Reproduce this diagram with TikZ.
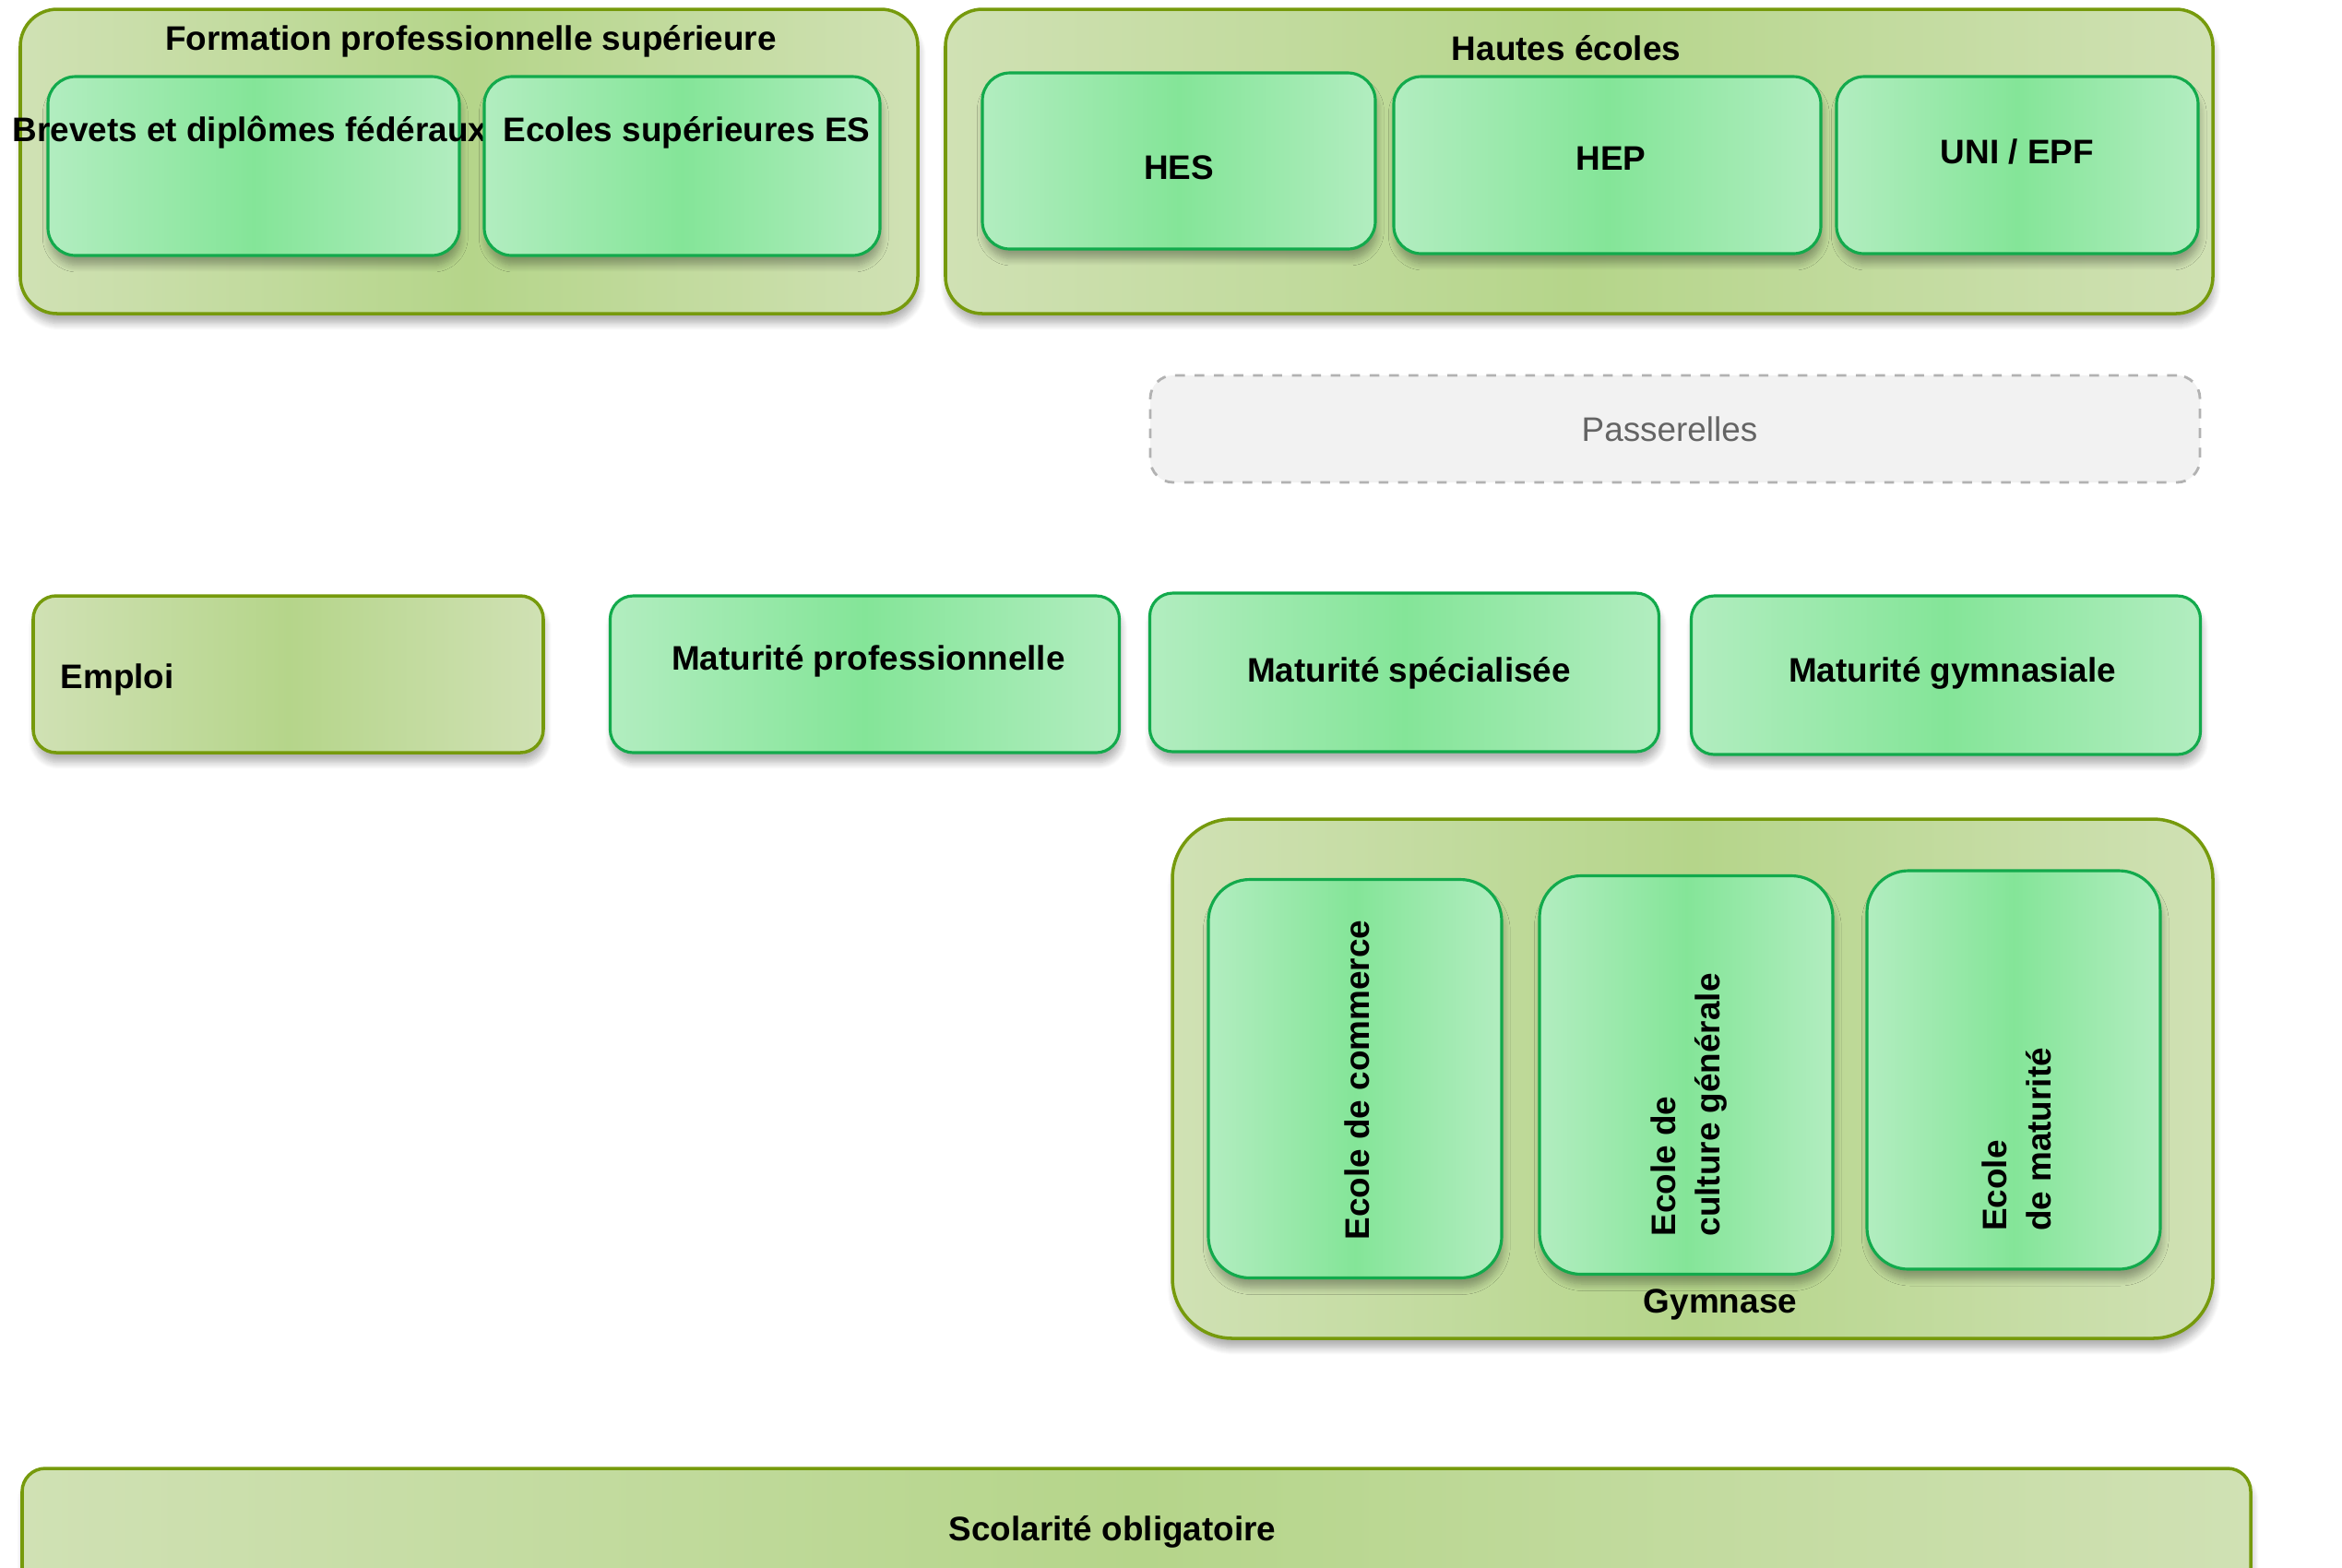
\documentclass[tikz,border=0pt]{standalone}
\usepackage{fontspec}
\setmainfont{Liberation Sans}
\usetikzlibrary{calc,shadows.blur}
\definecolor{zoneedge}{RGB}{208,225,180}
\definecolor{zonemid}{RGB}{181,213,138}
\definecolor{zoneline}{RGB}{118,154,12}
\definecolor{schooledge}{RGB}{178,237,192}
\definecolor{schoolmid}{RGB}{132,229,152}
\definecolor{schoolline}{RGB}{18,170,76}
\definecolor{passfill}{RGB}{242,242,242}
\definecolor{passline}{RGB}{178,178,178}
\definecolor{passtext}{RGB}{100,100,100}
\tikzset{
	softshadow/.style={blur shadow={shadow xshift=0.5pt, shadow yshift=-3pt, shadow blur steps=8, shadow opacity=30}},
	zone/.style={draw=zoneline, line width=1pt, rounded corners=0.4cm, left color=zoneedge, right color=zoneedge, middle color=zonemid, softshadow, inner sep=0pt},
	school/.style={draw=schoolline, line width=0.9pt, rounded corners=0.3cm, left color=schooledge, right color=schooledge, middle color=schoolmid, softshadow, inner sep=0pt},
	txt/.style={font=\bfseries\fontsize{10.5}{13.6}\selectfont, inner sep=0pt},
	lbl/.style={txt, yshift=-1.4pt},
	vlbl/.style={txt, rotate=90, anchor=west, align=left},
}

\begin{document}
\begin{tikzpicture}[x=1cm,y=-1cm]
				%%%%% START %%%%%
				\def\hrow{1.70}
				\def\wmat{5.52}
				\def\wgym{3.18}
				\def\hgym{4.32}
				
				\useasboundingbox (0,0) rectangle (25.39,16.99);
				
				% top row
				\node[zone, minimum width=9.73cm, minimum height=3.30cm] (fps) at (5.085,1.75) {};
				\node[lbl] (fpstitle) at ($(fps.north)+(0.02,0.32)$) {Formation professionnelle supérieure};
				\node[school, minimum width=4.46cm, minimum height=1.94cm] (brevets) at (2.75,1.80) {};
				\node[lbl] (brevetstxt) at ($(brevets.north)+(-0.04,0.57)$) {Brevets et diplômes fédéraux};
				\node[school, minimum width=4.29cm, minimum height=1.94cm] (es) at (7.395,1.80) {};
				\node[lbl] (estxt) at ($(es.north)+(0.05,0.57)$) {Ecoles supérieures ES};
				
				\node[zone, minimum width=13.74cm, minimum height=3.30cm] (he) at (17.12,1.75) {};
				\node[lbl] (hetitle) at ($(he.north)+(-0.14,0.39)$) {Hautes écoles};
				\node[school, minimum width=4.26cm, minimum height=1.91cm] (hes) at (12.78,1.745) {};
				\node[lbl] (hestxt) at ($(hes.center)+(0,0.02)$) {HES};
				\node[school, minimum width=4.63cm, minimum height=1.92cm] (hep) at (17.425,1.79) {};
				\node[lbl] (heptxt) at ($(hep.center)+(0.04,-0.12)$) {HEP};
				\node[school, minimum width=3.92cm, minimum height=1.92cm] (uni) at (21.87,1.79) {};
				\node[lbl] (unitxt) at ($(uni.center)+(0,-0.19)$) {UNI / EPF};
				
				\node[draw=passline, dashed, fill=passfill, line width=0.8pt, rounded corners=0.25cm, minimum width=11.38cm, minimum height=1.16cm] (pass) at (18.16,4.65) {};
				\node[lbl, font=\fontsize{10.5}{13.6}\selectfont, text=passtext] (passtxt) at ($(pass.center)+(-0.06,-0.05)$) {Passerelles};
				
				% maturites
				\node[zone, rounded corners=0.25cm, minimum width=5.53cm, minimum height=\hrow cm] (emploi) at (3.125,7.31) {};
				\node[lbl, anchor=west] (emploitxt) at (0.65,7.32) {Emploi};
				\node[school, rounded corners=0.25cm, minimum width=\wmat cm, minimum height=\hrow cm] (matpro) at (9.375,7.31) {};
				\node[lbl] (matprotxt) at ($(matpro.center)+(0.04,-0.19)$) {Maturité professionnelle};
				\node[school, rounded corners=0.25cm, minimum width=\wmat cm, minimum height=1.72cm] (matspe) at (15.225,7.29) {};
				\node[lbl] (matspetxt) at ($(matspe.center)+(0.05,-0.04)$) {Maturité spécialisée};
				\node[school, rounded corners=0.25cm, minimum width=\wmat cm, minimum height=1.72cm] (matgym) at (21.095,7.32) {};
				\node[lbl] (matgymtxt) at ($(matgym.center)+(0.07,-0.07)$) {Maturité gymnasiale};
				
				% gymnase
				\node[zone, rounded corners=0.65cm, minimum width=11.28cm, minimum height=5.63cm] (gym) at (18.35,11.695) {};
				\node[lbl] (gymtxt) at ($(gym.south)+(0.30,-0.43)$) {Gymnase};
				\node[school, rounded corners=0.45cm, minimum width=\wgym cm, minimum height=\hgym cm] (ecom) at (14.69,11.695) {};
				\node[vlbl] (ecomtxt) at ($(ecom.south)+(0.02,-0.42)$) {Ecole de commerce};
				\node[school, rounded corners=0.45cm, minimum width=\wgym cm, minimum height=\hgym cm] (ecg) at (18.28,11.655) {};
				\node[vlbl] (ecgtxt) at ($(ecg.south)+(0.03,-0.42)$) {Ecole de\\culture générale};
				\node[school, rounded corners=0.45cm, minimum width=\wgym cm, minimum height=\hgym cm] (emat) at (21.83,11.60) {};
				\node[vlbl] (emattxt) at ($(emat.south)+(0.03,-0.42)$) {Ecole\\de maturité};
				
				% bottom
				\node[zone, rounded corners=0.25cm, minimum width=24.16cm, minimum height=1.60cm] (scol) at (12.32,16.72) {};
				\node[lbl] (scoltxt) at (12.06,16.56) {Scolarité obligatoire};
				%%%%% END %%%%%
\end{tikzpicture}
\end{document}
